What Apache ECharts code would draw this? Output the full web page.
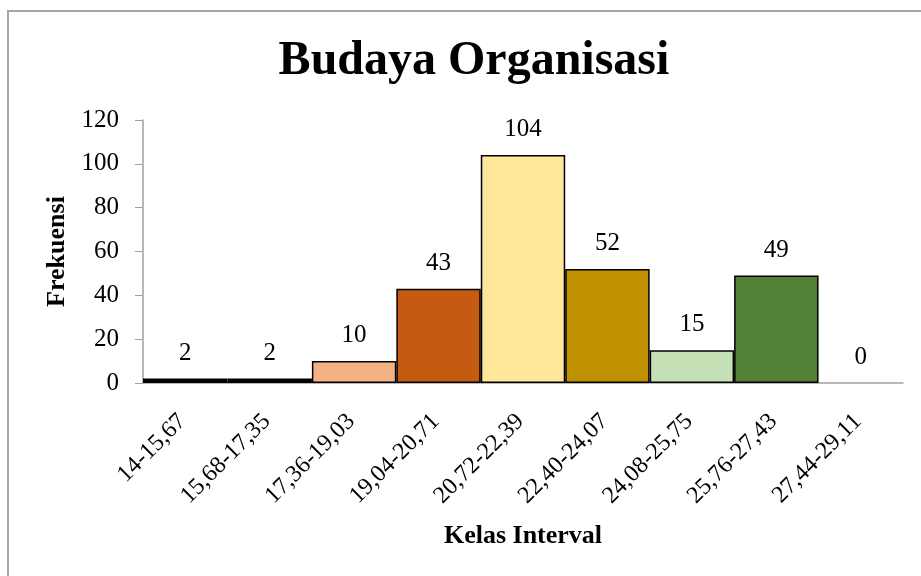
<!DOCTYPE html>
<html lang="id">
<head>
	<meta charset="UTF-8">
	<title>Budaya Organisasi</title>
	<script src="https://cdn.jsdelivr.net/npm/echarts@6/dist/echarts.min.js"></script>
	<style>
		html,body{margin:0;padding:0;background:#fff;}
		#main{width:921px;height:576px;}
	</style>
</head>
<body>
	<div id="main"></div>
	<script>
		// kelas interval dan frekuensi
		var kelas = ["14-15,67","15,68-17,35","17,36-19,03","19,04-20,71","20,72-22,39","22,40-24,07","24,08-25,75","25,76-27,43","27,44-29,11"];
		var frekuensi = [2,2,10,43,104,52,15,49,0];
		var warna = ["#000000","#000000","#F4B183","#C55A11","#FFE699","#BF9000","#C5E0B4","#538135","#FFFFFF"];
		var yTicks = [0,20,40,60,80,100,120];

		var font = "'Liberation Serif','Times New Roman',serif";
		var data = [];
		for(var i=0;i<frekuensi.length;i++){
			var d = {value:frekuensi[i],itemStyle:{color:warna[i]}};
			if(frekuensi[i] == 0){
				d.itemStyle.borderWidth = 0;
			}
			data.push(d);
		}

		var myChart = echarts.init(document.getElementById('main'));
		var option = {
			animation:false,
			textStyle:{fontFamily:font},
			title:{
				text:'Budaya Organisasi',
				left:469,
				textAlign:'center',
				top:33,
				textStyle:{fontFamily:font,fontSize:48,fontWeight:'bold',color:'#000'}
			},
			graphic:[{
				type:'rect',
				shape:{x:8,y:11,width:1000,height:1000},
				style:{fill:'none',stroke:'#a6a6a6',lineWidth:2},
				silent:true
			}],
			grid:{left:143,right:18,top:120,bottom:193},
			xAxis:{
				type:'category',
				data:kelas,
				name:'Kelas Interval',
				nameLocation:'middle',
				nameGap:140,
				nameTextStyle:{fontFamily:font,fontSize:26,fontWeight:'bold',color:'#000'},
				axisLine:{lineStyle:{color:'#a0a0a0',width:1.5}},
				axisTick:{show:false},
				axisLabel:{rotate:45,fontFamily:font,fontSize:24,color:'#000',margin:32,interval:0,padding:[0,4,0,0]}
			},
			yAxis:{
				type:'value',
				min:yTicks[0],
				max:yTicks[yTicks.length-1],
				interval:20,
				name:'Frekuensi',
				nameLocation:'middle',
				nameGap:69,
				nameRotate:90,
				nameTextStyle:{fontFamily:font,fontSize:26,fontWeight:'bold',color:'#000'},
				axisLine:{show:true,lineStyle:{color:'#a0a0a0',width:1.5}},
				axisTick:{show:true,length:8,lineStyle:{color:'#a0a0a0'}},
				splitLine:{show:false},
				axisLabel:{fontFamily:font,fontSize:25,color:'#000',margin:24}
			},
			series:[{
				type:'bar',
				data:data,
				barCategoryGap:'0%',
				itemStyle:{borderColor:'#000',borderWidth:1.5},
				label:{
					show:true,
					position:'top',
					distance:13,
					fontFamily:font,
					fontSize:25,
					color:'#000'
				}
			}]
		};
		myChart.setOption(option);
	</script>
</body>
</html>
